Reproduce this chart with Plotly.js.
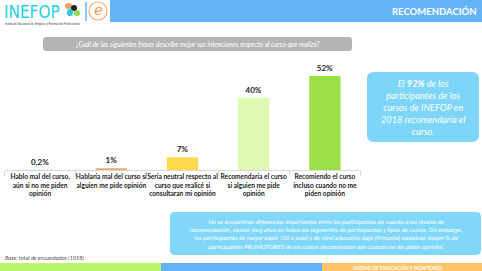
<!DOCTYPE html>
<html><head><meta charset="utf-8">
<script src="https://cdn.plot.ly/plotly-3.0.1.min.js"></script>
<style>html,body{margin:0;padding:0;background:#fff}#c{width:482px;height:271px}</style>
</head><body><div id="c"></div>
<script>
const categories = [
  "Hablo mal del curso,<br>aún si no me piden<br>opinión",
  "Hablaría mal del curso si<br>alguien me pide opinión",
  "Sería neutral respecto al<br>curso que realicé si<br>consultaran mi opinión",
  "Recomendaría el curso<br>si alguien me pide<br>opinión",
  "Recomiendo el curso<br>incluso cuando no me<br>piden opinión"
];
const values = [0.2, 1, 7, 40, 52];
const valueLabels = ["0,2%", "1%", "7%", "40%", "52%"];
const barColors = ["#F4B4C4", "#F2A464", "#FFD94E", "#DDF9B2", "#9BE046"];

const W = 482, H = 271;
const px = x => x / W, py = y => 1 - y / H;
function rrect(x0, y0, x1, y1, r) {
  const p = [
    `M ${px(x0 + r)} ${py(y0)}`, `L ${px(x1 - r)} ${py(y0)}`, `Q ${px(x1)} ${py(y0)} ${px(x1)} ${py(y0 + r)}`,
    `L ${px(x1)} ${py(y1 - r)}`, `Q ${px(x1)} ${py(y1)} ${px(x1 - r)} ${py(y1)}`,
    `L ${px(x0 + r)} ${py(y1)}`, `Q ${px(x0)} ${py(y1)} ${px(x0)} ${py(y1 - r)}`,
    `L ${px(x0)} ${py(y0 + r)}`, `Q ${px(x0)} ${py(y0)} ${px(x0 + r)} ${py(y0)}`, 'Z'];
  return p.join(' ');
}
function rect(x0, y0, x1, y1, color, extra) {
  return Object.assign({type: 'rect', xref: 'paper', yref: 'paper', x0: px(x0), x1: px(x1), y0: py(y1), y1: py(y0),
    fillcolor: color, line: {width: 0}, layer: 'below'}, extra || {});
}
function circ(x0, y0, x1, y1, color, extra) {
  return Object.assign({type: 'circle', xref: 'paper', yref: 'paper', x0: px(x0), x1: px(x1), y0: py(y1), y1: py(y0),
    fillcolor: color, line: {width: 0}}, extra || {});
}
function txt(x, y, text, size, color, opts) {
  return Object.assign({xref: 'paper', yref: 'paper', x: px(x), y: py(y), text: text, showarrow: false,
    font: {size: size, color: color, family: 'Lato, "Open Sans", sans-serif'}, xanchor: 'center', yanchor: 'middle'}, opts || {});
}

const shapes = [
  rect(110, 0, 482, 22, '#63B4F7'),
  {type: 'line', xref: 'paper', yref: 'paper', x0: px(86), x1: px(86), y0: py(2), y1: py(21), line: {color: '#63B4F7', width: 1.5}},
  circ(89, 2, 107, 20, '#FFFFFF', {line: {color: '#F5A96A', width: 1.2}}),
  circ(65, 3, 72, 9, '#F5A06A'),
  circ(71, 5, 77, 11, '#222222'),
  circ(67, 9, 73, 16, '#22C7E0'),
  circ(74, 10, 80, 16, '#8FD84A'),
  {type: 'path', xref: 'paper', yref: 'paper', path: rrect(43, 37, 352, 51, 3), fillcolor: '#B4B4B4', line: {width: 0}, layer: 'below'},
  {type: 'path', xref: 'paper', yref: 'paper', path: rrect(367, 72, 479, 142, 7), fillcolor: '#7DD5F8', line: {width: 0}, layer: 'below'},
  {type: 'path', xref: 'paper', yref: 'paper', path: rrect(170, 212, 481, 255, 5), fillcolor: '#80D7F8', line: {width: 0}, layer: 'below'},
  rect(0, 263, 161, 271, '#B8F66B'),
  rect(161, 263, 322, 271, '#63B4F7'),
  rect(322, 263, 482, 271, '#FFC36B')
];

const annotations = [
  txt(2, 0, 'INEFOP', 17, '#27CEE6', {xanchor: 'left', yanchor: 'top', font: {size: 17, color: '#27CEE6', family: '"Liberation Sans Narrow", "DejaVu Sans Condensed", sans-serif'}}),
  txt(3, 23.5, 'Instituto Nacional de Empleo y Formación Profesional', 3.2, '#444', {xanchor: 'left'}),
  txt(98, 10, '<i>e</i>', 15, '#F39A4E', {font: {size: 15, color: '#F39A4E', family: 'Georgia, "DejaVu Serif", serif'}}),
  txt(479, 11, '<b>RECOMENDACIÓN</b>', 9.5, '#FFFFFF', {xanchor: 'right'}),
  txt(197, 44, '<i>¿Cuál de las siguientes frases describe mejor sus intenciones respecto al curso que realizó?</i>', 6.6, '#FFFFFF'),
  txt(423, 107, '<i>El <b>92%</b> de los<br>participantes de los<br>cursos de INEFOP en<br>2018 recomendaría el<br>curso.</i>', 9.2, '#FFFFFF'),
  txt(326, 233.5, '<i>No se encuentran diferencias importantes entre los participantes en cuanto a los niveles de<br>recomendación, siendo muy altos en todos los segmentos de participantes y tipos de cursos. Sin embargo,<br>los participantes de mayor edad  (50 o más) y de nivel educativo bajo (Primaria) muestran mayor % de<br>participantes PROMOTORES de los cursos (recomiendan aún cuando no les piden opinión).</i>', 6.3, '#FFFFFF'),
  txt(3, 257, '<i>Base: total de encuestados (1058)</i>', 5.6, '#555555', {xanchor: 'left'}),
  txt(398, 267, '<b>UNIDAD DE EVALUACIÓN Y MONITOREO</b>', 4.6, '#FFFFFF')
];

const trace = {
  type: 'bar', x: categories, y: values, text: valueLabels, textposition: 'outside',
  textfont: {size: 8, color: '#222', family: 'Lato, "Open Sans", sans-serif', weight: 700},
  marker: {color: barColors}, cliponaxis: false, hoverinfo: 'none'
};

const layout = {
  width: W, height: H, margin: {l: 0, r: 0, t: 0, b: 0},
  paper_bgcolor: '#FFFFFF', plot_bgcolor: 'rgba(0,0,0,0)', showlegend: false, bargap: 0.56,
  font: {family: 'Lato, "Open Sans", sans-serif'},
  xaxis: {type: 'category', domain: [4.5 / W, 360.5 / W], showline: true, linecolor: '#D9D9D9', linewidth: 1,
    ticks: 'outside', tickson: 'boundaries', ticklen: 5, tickcolor: '#D9D9D9', showgrid: false, tickangle: 0,
    automargin: false,
    tickfont: {size: 6.6, color: '#222', family: 'Lato, "Open Sans", sans-serif', weight: 700}, fixedrange: true},
  yaxis: {range: [0, 60], visible: false, domain: [1 - 170 / H, 1 - 61.5 / H], fixedrange: true},
  shapes: shapes, annotations: annotations
};
Plotly.newPlot('c', [trace], layout, {staticPlot: true, displayModeBar: false});
</script></body></html>
